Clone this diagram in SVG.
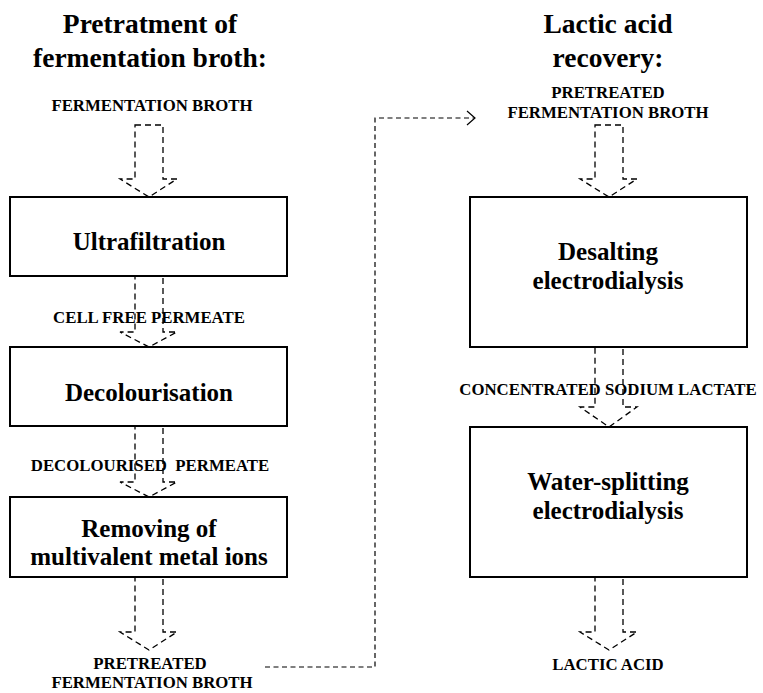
<svg xmlns="http://www.w3.org/2000/svg" width="763" height="693" viewBox="0 0 763 693">
<style>
.box{fill:#fff;stroke:#000;stroke-width:2}
.arr{fill:none;stroke:#000;stroke-width:1.3;stroke-dasharray:6 4}
.con{fill:none;stroke:#000;stroke-width:1.2;stroke-dasharray:5 3.5}
.t{font-family:"Liberation Serif","Times New Roman",serif;font-weight:bold;fill:#000;text-anchor:middle}
.title{font-size:27.5px}
.lab{font-size:16.8px}
.bt{font-size:25px}
</style>
<rect width="763" height="693" fill="#fff"/>
<text class="t title" x="150" y="33">Pretratment of</text>
<text class="t title" x="150" y="67">fermentation broth:</text>
<text class="t title" x="608" y="33">Lactic acid</text>
<text class="t title" x="608" y="67">recovery:</text>
<g id="connectors">
<polygon class="arr" points="135,125 163,125 163,179 177,179 149,197 120,179 135,179"/>
<polygon class="arr" points="135,276 163,276 163,332 177,332 149,347 120,332 135,332"/>
<polygon class="arr" points="135,426 163,426 163,482 177,482 149,497 120,482 135,482"/>
<polygon class="arr" points="135,577 163,577 163,632 177,632 149,650 120,632 135,632"/>
<polygon class="arr" points="595,125 623,125 623,179 637,179 609,197 580,179 595,179"/>
<polygon class="arr" points="595,347 623,347 623,407 637,407 609,427 580,407 595,407"/>
<polygon class="arr" points="595,577 623,577 623,632 637,632 609,650 580,632 595,632"/>
<polyline class="con" points="265,667 375,667 375,118 475,118"/>
<polyline fill="none" stroke="#000" stroke-width="1.2" points="467,111 475,118 467,125"/>
</g>
<g id="n-ultra"><rect class="box" x="10" y="197" width="277" height="79"/><text class="t bt" x="149" y="250">Ultrafiltration</text></g>
<g id="n-decol"><rect class="box" x="10" y="347" width="277" height="79"/><text class="t bt" x="149" y="401">Decolourisation</text></g>
<g id="n-remove"><rect class="box" x="10" y="497" width="277" height="80"/><text class="t bt" x="149" y="537">Removing of</text><text class="t bt" x="149" y="565">multivalent metal ions</text></g>
<g id="n-desalt"><rect class="box" x="470" y="197" width="277" height="150"/><text class="t bt" x="608" y="260">Desalting</text><text class="t bt" x="608" y="289">electrodialysis</text></g>
<g id="n-water"><rect class="box" x="470" y="427" width="277" height="150"/><text class="t bt" x="608" y="490">Water-splitting</text><text class="t bt" x="608" y="519">electrodialysis</text></g>
<g id="labels">
<text class="t lab" x="152" y="111">FERMENTATION BROTH</text>
<text class="t lab" x="149" y="323" xml:space="preserve">CELL FREE PERMEATE</text>
<text class="t lab" x="150" y="471" xml:space="preserve">DECOLOURISED  PERMEATE</text>
<text class="t lab" x="150" y="669">PRETREATED</text>
<text class="t lab" x="152" y="688">FERMENTATION BROTH</text>
<text class="t lab" x="608" y="98">PRETREATED</text>
<text class="t lab" x="608" y="118">FERMENTATION BROTH</text>
<text class="t lab" x="608" y="395">CONCENTRATED SODIUM LACTATE</text>
<text class="t lab" x="608" y="670">LACTIC ACID</text>
</g>
</svg>
